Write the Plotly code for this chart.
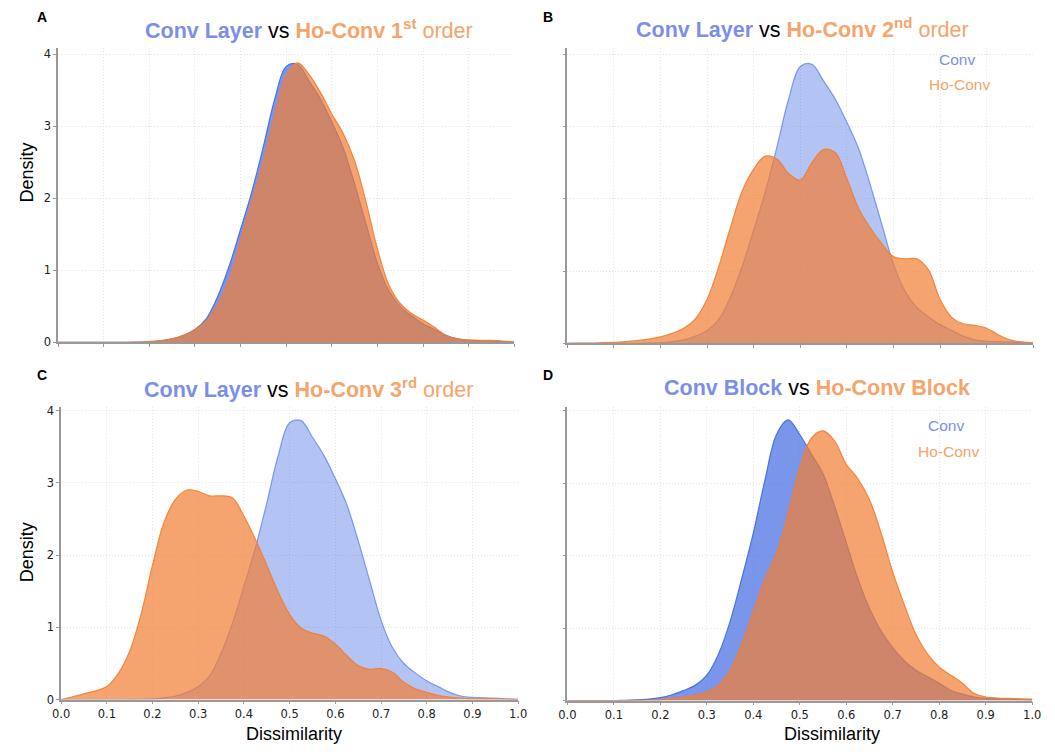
import plotly.graph_objects as go

W, H = 1055, 752

# ---------------- data ----------------
x_grid = [round(i * 0.025, 3) for i in range(41)]

conv_layer = [0, 0, 0, 0, 0, 0, 0.002, 0.005, 0.01, 0.025, 0.05, 0.1, 0.18, 0.33, 0.64, 1.06,
              1.57, 2.1, 2.72, 3.38, 3.83, 3.86, 3.63, 3.38, 3.06, 2.7, 2.2, 1.65, 1.1, 0.72,
              0.5, 0.37, 0.26, 0.18, 0.1, 0.05, 0.03, 0.025, 0.02, 0.012, 0.005]

ho_conv_1st = [0, 0, 0, 0, 0, 0, 0.002, 0.005, 0.01, 0.025, 0.05, 0.1, 0.18, 0.3, 0.53, 0.88,
               1.42, 1.97, 2.52, 3.16, 3.71, 3.88, 3.72, 3.47, 3.17, 2.9, 2.52, 1.95, 1.3, 0.8,
               0.54, 0.4, 0.31, 0.21, 0.1, 0.05, 0.035, 0.03, 0.03, 0.02, 0.005]

ho_conv_2nd = [0, 0.003, 0.005, 0.01, 0.015, 0.025, 0.04, 0.06, 0.09, 0.14, 0.21, 0.34, 0.61,
               1.06, 1.6, 2.1, 2.41, 2.59, 2.55, 2.35, 2.26, 2.5, 2.68, 2.64, 2.28, 1.87, 1.6,
               1.38, 1.2, 1.17, 1.17, 1.02, 0.61, 0.36, 0.27, 0.25, 0.21, 0.12, 0.05, 0.02, 0.01]

ho_conv_3rd = [0, 0.04, 0.08, 0.12, 0.18, 0.36, 0.67, 1.18, 1.86, 2.45, 2.77, 2.9, 2.88, 2.82,
               2.82, 2.79, 2.54, 2.22, 1.86, 1.49, 1.18, 0.99, 0.92, 0.88, 0.77, 0.61, 0.47,
               0.42, 0.43, 0.38, 0.24, 0.15, 0.1, 0.06, 0.035, 0.02, 0.01, 0.01, 0.01, 0.005, 0.003]

conv_block = [0, 0, 0, 0, 0, 0.005, 0.01, 0.02, 0.04, 0.08, 0.14, 0.21, 0.35, 0.64, 1.09, 1.68,
              2.31, 3.04, 3.67, 3.87, 3.67, 3.4, 3.13, 2.68, 2.18, 1.68, 1.27, 0.96, 0.73, 0.55,
              0.42, 0.33, 0.24, 0.14, 0.09, 0.05, 0.03, 0.025, 0.02, 0.015, 0.01]

ho_conv_block = [0, 0, 0, 0, 0, 0, 0.002, 0.005, 0.01, 0.03, 0.05, 0.08, 0.12, 0.21, 0.42, 0.78,
                 1.23, 1.68, 2.04, 2.59, 3.22, 3.62, 3.72, 3.58, 3.26, 3.06, 2.77, 2.31, 1.77,
                 1.32, 0.91, 0.64, 0.46, 0.35, 0.24, 0.1, 0.05, 0.035, 0.03, 0.025, 0.02]

x_ticks = [round(i * 0.1, 1) for i in range(11)]
y_ticks = [0, 1, 2, 3, 4]

# ---------------- styling ----------------
BLUE = (65, 105, 225)
ORANGE = (242, 125, 50)
TITLE_BLUE = "#7b8fe8"
TITLE_ORANGE = "#f5a46c"


def rgba(c, a):
    return "rgba(%d,%d,%d,%.2f)" % (c[0], c[1], c[2], a)


fig = go.Figure()

panels = [
    # (xaxis, yaxis, conv data, conv alpha, ho data)
    ("x", "y", conv_layer, 0.7, ho_conv_1st),
    ("x2", "y2", conv_layer, 0.4, ho_conv_2nd),
    ("x3", "y3", conv_layer, 0.4, ho_conv_3rd),
    ("x4", "y4", conv_block, 0.7, ho_conv_block),
]

for xa, ya, conv, ca, ho in panels:
    fig.add_trace(go.Scatter(
        x=x_grid, y=conv, xaxis=xa, yaxis=ya, mode="lines",
        line=dict(color=rgba(BLUE, min(1, ca + 0.2)), width=1.2, shape="spline", smoothing=1.0),
        fill="tozeroy", fillcolor=rgba(BLUE, ca), showlegend=False, hoverinfo="skip"))
    fig.add_trace(go.Scatter(
        x=x_grid, y=ho, xaxis=xa, yaxis=ya, mode="lines",
        line=dict(color=rgba(ORANGE, 0.9), width=1.2, shape="spline", smoothing=1.0),
        fill="tozeroy", fillcolor=rgba(ORANGE, 0.7), showlegend=False, hoverinfo="skip"))


def px_x(p):
    return p / W


def px_y(p):
    return 1 - p / H


tick_font = dict(family="DejaVu Sans", size=11.5, color="#222")

axis_common = dict(
    showline=True, linecolor="#999999", linewidth=1.5,
    ticks="outside", ticklen=3, tickcolor="#999999", tickwidth=1,
    showgrid=True, gridcolor="#e4e4e4", griddash="1px,2px", gridwidth=1,
    zeroline=False, tickfont=tick_font,
)

# domains in pixels (left, right) / (top, bottom)
xdom = {
    "A": (50, 514), "B": (568, 1042), "C": (53, 518), "D": (568, 1041),
}
ydom = {
    "A": (46, 344, 4.08), "B": (46, 345, 4.08), "C": (409, 706, 4.055), "D": (409, 707, 4.055),
}

layout_axes = {}
for i, key in enumerate(["A", "B", "C", "D"]):
    n = "" if i == 0 else str(i + 1)
    xl, xr = xdom[key]
    yt, yb, ymax = ydom[key]
    bottom_row = key in ("C", "D")
    left_col = key in ("A", "C")
    layout_axes["xaxis" + n] = dict(
        axis_common, domain=[px_x(xl), px_x(xr)], range=[0, 1],
        tickvals=x_ticks, tickformat=".1f", showticklabels=bottom_row,
        anchor="y" + n,
    )
    layout_axes["yaxis" + n] = dict(
        axis_common, domain=[px_y(yb), px_y(yt)], range=[0, ymax],
        tickvals=y_ticks, showticklabels=left_col,
        anchor="x" + n,
    )

fig.update_layout(**layout_axes)

# ---------------- text ----------------
def title_text(left, right):
    return ('<span style="color:%s"><b>%s</b></span> <span style="color:#000">vs</span> '
            '<span style="color:%s">%s</span>') % (TITLE_BLUE, left, TITLE_ORANGE, right)


titles = [
    (305, 26, title_text("Conv Layer", "<b>Ho-Conv 1<sup>st</sup></b> order")),
    (807, 25, title_text("Conv Layer", "<b>Ho-Conv 2<sup>nd</sup></b> order")),
    (305, 390, title_text("Conv Layer", "<b>Ho-Conv 3<sup>rd</sup></b> order")),
    (822, 390, title_text("Conv Block", "<b>Ho-Conv Block</b>")),
]

annotations = []
for cx, cy, t in titles:
    annotations.append(dict(
        x=px_x(cx), y=px_y(cy), xref="paper", yref="paper", text=t, showarrow=False,
        xanchor="center", yanchor="middle",
        font=dict(family="Liberation Sans", size=21.5)))

for lbl, cx, cy in [("A", 34, 14), ("B", 548, 14), ("C", 34, 377), ("D", 548, 377)]:
    annotations.append(dict(
        x=px_x(cx), y=px_y(cy), xref="paper", yref="paper", text="<b>%s</b>" % lbl,
        showarrow=False, xanchor="center", yanchor="middle",
        font=dict(family="Liberation Sans", size=14, color="#000")))

for cy in (172, 557):
    annotations.append(dict(
        x=px_x(18), y=px_y(cy), xref="paper", yref="paper", text="Density", textangle=-90,
        showarrow=False, xanchor="center", yanchor="middle",
        font=dict(family="Liberation Sans", size=18, color="#000")))

for cx in (290, 837):
    annotations.append(dict(
        x=px_x(cx), y=px_y(741), xref="paper", yref="paper", text="Dissimilarity",
        showarrow=False, xanchor="center", yanchor="middle",
        font=dict(family="Liberation Sans", size=18, color="#000")))

for cx1, cy1, cx2, cy2 in [(964, 57, 967, 83), (953, 428, 956, 455)]:
    annotations.append(dict(
        x=px_x(cx1), y=px_y(cy1), xref="paper", yref="paper", text="Conv",
        showarrow=False, xanchor="center", yanchor="middle",
        font=dict(family="Liberation Sans", size=15.5, color=TITLE_BLUE)))
    annotations.append(dict(
        x=px_x(cx2), y=px_y(cy2), xref="paper", yref="paper", text="Ho-Conv",
        showarrow=False, xanchor="center", yanchor="middle",
        font=dict(family="Liberation Sans", size=15.5, color=TITLE_ORANGE)))

fig.update_layout(
    width=W, height=H,
    margin=dict(l=0, r=0, t=0, b=0),
    paper_bgcolor="white", plot_bgcolor="white",
    annotations=annotations,
    showlegend=False,
)

fig.write_html("out.html")
